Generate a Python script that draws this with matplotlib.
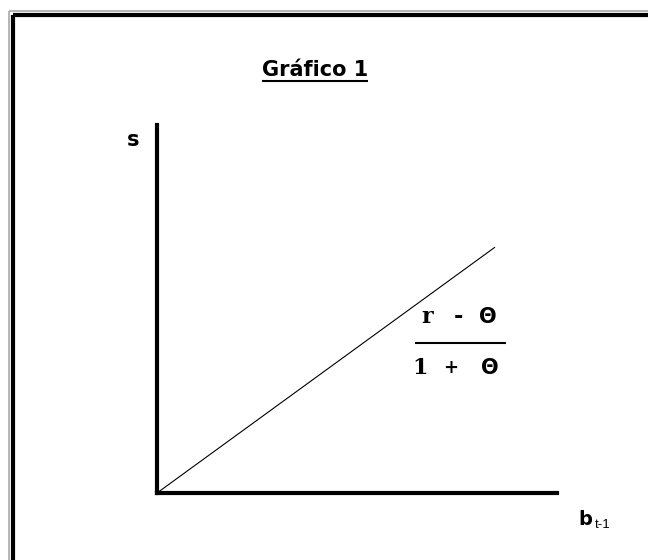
import matplotlib
matplotlib.use("Agg")
import matplotlib.pyplot as plt
from matplotlib.lines import Line2D

W, H = 648, 560

# schematic relation s = (r - θ)/(1 + θ) * b_{t-1}, in axis fractions
b_vals = [0.0, 0.845]
s_vals = [0.0, 0.668]

title = "Gráfico 1"
numerator = ["r", "-", "Θ"]
denominator = ["1", "+", "Θ"]

fig = plt.figure(figsize=(W / 100, H / 100), dpi=100)
fig.patch.set_facecolor("white")


def fx(px):
    return px / W


def fy(py):
    return 1 - py / H


# frame along top and left edge
for xc, yc, col, lw in [(8.5, 10.5, "#a8a8a8", 1.2), (12.5, 14.5, "black", 3.0)]:
    fig.add_artist(Line2D([fx(xc), fx(xc)], [fy(yc), 0], color=col, lw=lw,
                          solid_capstyle="butt"))
    fig.add_artist(Line2D([fx(xc), 1], [fy(yc), fy(yc)], color=col, lw=lw,
                          solid_capstyle="butt"))

ax = fig.add_axes([fx(157), fy(493), (557 - 157) / W, (493 - 125) / H])
ax.set_xlim(0, 1)
ax.set_ylim(0, 1)
for side in ["top", "right"]:
    ax.spines[side].set_visible(False)
for side in ["left", "bottom"]:
    ax.spines[side].set_linewidth(3)
    ax.spines[side].set_capstyle("projecting")
ax.set_xticks([])
ax.set_yticks([])
ax.patch.set_alpha(0)

ax.plot(b_vals, s_vals, color="black", lw=0.8, solid_capstyle="butt")

ax.text(-0.06, 0.959, "s", fontsize=15, fontweight="heavy", ha="center", va="center",
        family="DejaVu Sans")
ax.text(1.07, -0.073, "b", fontsize=14, fontweight="heavy", ha="center", va="center",
        family="DejaVu Sans")
ax.text(1.115, -0.088, "t-1", fontsize=9.5, ha="center", va="center",
        family="Liberation Sans")


def glyph(x, y, ch):
    # theta from the sans face, the rest in serif
    if ch == "Θ":
        ax.text(x, y, ch, fontsize=15, fontweight="bold", family="DejaVu Sans",
                ha="center", va="center")
    else:
        ax.text(x, y, ch, fontsize=16 if ch != "+" else 13, fontweight="bold",
                family="DejaVu Serif", ha="center", va="center")


# fraction next to the line, one glyph at a time
num_x = [(427 - 157) / 400, (458 - 157) / 400, (488 - 157) / 400]
den_x = [(420 - 157) / 400, (451 - 157) / 400, (490 - 157) / 400]
for ch, x in zip(numerator, num_x):
    glyph(x, 0.478, ch)
for ch, x in zip(denominator, den_x):
    glyph(x, 0.34, ch)
ax.plot([0.645, 0.872], [0.408, 0.408], color="black", lw=1.5,
        solid_capstyle="butt", clip_on=False)

t = fig.text(fx(315), fy(76), title, fontsize=15, fontweight="bold",
             ha="center", va="baseline", family="DejaVu Sans")
fig.canvas.draw()
bb = t.get_window_extent().transformed(fig.transFigure.inverted())
fig.add_artist(Line2D([bb.x0, bb.x1], [fy(80.5), fy(80.5)], color="black", lw=1.5,
                      solid_capstyle="butt"))

fig.savefig("out.png", dpi=100)
